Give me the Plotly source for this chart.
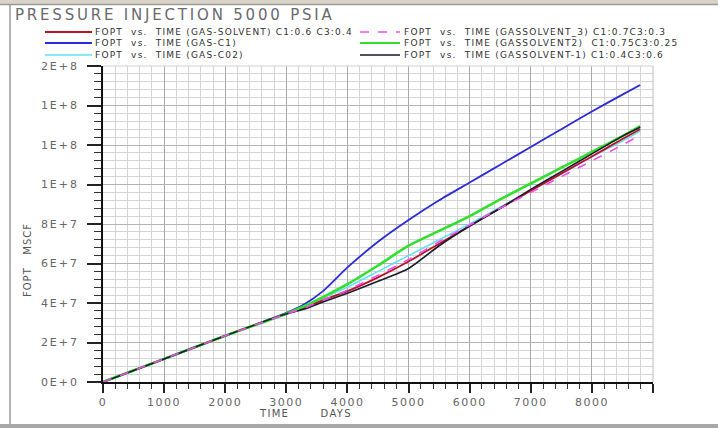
import plotly.graph_objects as go

# Cumulative field oil production (FOPT, MSCF) against time (days)
days = [0, 1000, 2000, 3000, 3300, 3600, 4000, 4500, 5000, 5500, 6000, 6500, 7000, 7500, 8000, 8500, 8790]

fopt_gas_solvent = [0, 1.17e7, 2.34e7, 3.45e7, 3.75e7, 4.15e7, 4.6e7, 5.3e7, 6.1e7, 7.0e7, 7.9e7, 8.8e7, 9.68e7, 1.055e8, 1.142e8, 1.23e8, 1.28e8]
fopt_gas_c1 = [0, 1.17e7, 2.34e7, 3.5e7, 3.95e7, 4.6e7, 5.8e7, 7.1e7, 8.2e7, 9.2e7, 1.01e8, 1.10e8, 1.19e8, 1.28e8, 1.37e8, 1.455e8, 1.504e8]
fopt_gas_co2 = [0, 1.17e7, 2.34e7, 3.45e7, 3.8e7, 4.25e7, 4.8e7, 5.6e7, 6.4e7, 7.2e7, 8.0e7, 8.85e7, 9.7e7, 1.055e8, 1.14e8, 1.22e8, 1.27e8]
fopt_gassolvent_3 = [0, 1.17e7, 2.34e7, 3.45e7, 3.75e7, 4.15e7, 4.65e7, 5.4e7, 6.2e7, 7.1e7, 7.95e7, 8.8e7, 9.6e7, 1.04e8, 1.12e8, 1.2e8, 1.25e8]
fopt_gassolvent2 = [0, 1.17e7, 2.34e7, 3.46e7, 3.85e7, 4.3e7, 4.95e7, 5.9e7, 6.9e7, 7.65e7, 8.4e7, 9.25e7, 1.005e8, 1.085e8, 1.165e8, 1.245e8, 1.296e8]
fopt_gassolvent_1 = [0, 1.17e7, 2.34e7, 3.45e7, 3.7e7, 4.05e7, 4.5e7, 5.1e7, 5.75e7, 6.9e7, 7.9e7, 8.8e7, 9.75e7, 1.065e8, 1.155e8, 1.245e8, 1.29e8]

y_tickvals = [0, 2e7, 4e7, 6e7, 8e7, 1e8, 1.2e8, 1.4e8, 1.6e8]
y_ticktext = ["0E+0", "2E+7", "4E+7", "6E+7", "8E+7", "1E+8", "1E+8", "1E+8", "2E+8"]
x_tickvals = [0, 1000, 2000, 3000, 4000, 5000, 6000, 7000, 8000, 9000]
x_ticktext = ["0", "1000", "2000", "3000", "4000", "5000", "6000", "7000", "8000", ""]

NB = "\u00a0"


def spaced(text, px_gap):
    return f'<span style="letter-spacing:{px_gap}px">{text}</span>'


series = [
    # (values, legend text, colour, width, dash, legend column, legend row)
    (fopt_gas_co2, f"FOPT{NB}{NB}vs.{NB}{NB}TIME{NB}(GAS-C02)", "#5fe3f5", 1.6, "solid", 0, 2),
    (fopt_gas_solvent, f"FOPT{NB}{NB}vs.{NB}{NB}TIME{NB}(GAS-SOLVENT){NB}C1:0.6{NB}C3:0.4", "#c01028", 1.8, "solid", 0, 0),
    (fopt_gas_c1, f"FOPT{NB}{NB}vs.{NB}{NB}TIME{NB}(GAS-C1)", "#2b2bd8", 1.8, "solid", 0, 1),
    (fopt_gassolvent2, f"FOPT{NB}{NB}vs.{NB}{NB}TIME{NB}(GASSOLVENT2){NB}{NB}C1:0.75C3:0.25", "#2fe02f", 2.6, "solid", 1, 1),
    (fopt_gassolvent_1, f"FOPT{NB}{NB}vs.{NB}{NB}TIME{NB}(GASSOLVENT-1){NB}C1:0.4C3:0.6", "#1a1a2a", 1.6, "solid", 1, 2),
    (fopt_gassolvent_3, f"FOPT{NB}{NB}vs.{NB}{NB}TIME{NB}(GASSOLVENT_3){NB}C1:0.7C3:0.3", "#f04cf0", 1.6, "dash", 1, 0),
]

W, H = 718, 428
L, R, T, B = 103, 65, 66, 46
PW, PH = W - L - R, H - T - B


def px(xp):
    return (xp - L) / PW


def py(yp):
    return (H - B - yp) / PH


fig = go.Figure()
for vals, name, color, width, dash, _, _ in series:
    fig.add_trace(go.Scatter(
        x=days, y=vals, mode="lines", name=name, showlegend=False,
        line=dict(color=color, width=width, dash=dash, shape="spline", smoothing=0.6),
    ))

shapes = []
annotations = []

# Two-column key above the plot
col_line = [(45, 92), (360, 400)]
col_text = [93, 402]
row_y = [32, 43, 55]
for vals, name, color, width, dash, col, row in series:
    x0, x1 = col_line[col]
    shapes.append(dict(type="line", xref="paper", yref="paper",
                       x0=px(x0), x1=px(x1), y0=py(row_y[row]), y1=py(row_y[row]),
                       line=dict(color=color, width=min(width, 2.2), dash=dash)))
    annotations.append(dict(xref="paper", yref="paper", x=px(col_text[col]), y=py(row_y[row]),
                            text=spaced(name, 1.2), showarrow=False, xanchor="left", yanchor="middle",
                            font=dict(family="DejaVu Sans", size=9, color="#333333")))

# Title
annotations.append(dict(xref="paper", yref="paper", x=px(13), y=py(15),
                        text=spaced("PRESSURE INJECTION 5000 PSIA", 2.8), showarrow=False,
                        xanchor="left", yanchor="middle",
                        font=dict(family="DejaVu Sans", size=15, color="#6a6a6a")))
# Axis titles
annotations.append(dict(xref="paper", yref="paper", x=px(27), y=py(260),
                        text=spaced(f"FOPT{NB}{NB}{NB}MSCF", 1.0), showarrow=False, textangle=-90,
                        xanchor="center", yanchor="middle",
                        font=dict(family="DejaVu Sans", size=10, color="#555555")))
annotations.append(dict(xref="paper", yref="paper", x=px(305), y=py(413),
                        text=spaced(f"TIME{NB}{NB}{NB}{NB}{NB}{NB}{NB}DAYS", 1.3), showarrow=False,
                        xanchor="center", yanchor="middle",
                        font=dict(family="DejaVu Sans", size=10, color="#555555")))

# Window frame
shapes.append(dict(type="rect", xref="paper", yref="paper", x0=px(0), x1=px(W), y0=py(0), y1=py(4),
                   fillcolor="#d8d4c6", line=dict(width=0), layer="below"))
shapes.append(dict(type="line", xref="paper", yref="paper", x0=px(0), x1=px(W), y0=py(4.5), y1=py(4.5),
                   line=dict(color="#9a9a9a", width=1.5)))
shapes.append(dict(type="line", xref="paper", yref="paper", x0=px(10), x1=px(10), y0=py(5), y1=py(425),
                   line=dict(color="#9a9a9a", width=1.5)))
shapes.append(dict(type="rect", xref="paper", yref="paper", x0=px(0), x1=px(W), y0=py(424), y1=py(H),
                   fillcolor="#a8a8a8", line=dict(width=0)))
# Plot boundary (light)
shapes.append(dict(type="line", xref="paper", yref="paper", x0=1, x1=1, y0=0, y1=1,
                   line=dict(color="#bdbdbd", width=1)))
shapes.append(dict(type="line", xref="paper", yref="paper", x0=0, x1=1, y0=1, y1=1,
                   line=dict(color="#cfcfcf", width=1)))

tick_font = dict(family="DejaVu Sans", size=11, color="#666666")

fig.update_layout(
    width=W, height=H,
    margin=dict(l=L, r=R, t=T, b=B, pad=0),
    paper_bgcolor="white", plot_bgcolor="white",
    shapes=shapes, annotations=annotations,
    xaxis=dict(range=[0, 9000], tickvals=x_tickvals,
               ticktext=[spaced(t, 1.5) for t in x_ticktext],
               showgrid=True, gridcolor="#a9a9a9", gridwidth=1,
               ticks="outside", ticklen=9, tickwidth=1.5, tickcolor="#222",
               showline=True, linecolor="#111", linewidth=1.5,
               zeroline=False, tickfont=tick_font,
               minor=dict(dtick=200, tick0=0, showgrid=True, gridcolor="#d4d4d4", gridwidth=1,
                          ticks="outside", ticklen=5, tickwidth=1, tickcolor="#333")),
    yaxis=dict(range=[0, 1.6e8], tickvals=y_tickvals,
               ticktext=[spaced(t, 2.0) for t in y_ticktext],
               showgrid=True, gridcolor="#b4b4b4", gridwidth=1,
               ticks="outside", ticklen=14, tickwidth=1.5, tickcolor="#222",
               showline=True, linecolor="#111", linewidth=1.5,
               zeroline=False, tickfont=tick_font, ticklabelstandoff=6,
               minor=dict(dtick=4e6, tick0=0, showgrid=True, gridcolor="#d4d4d4", gridwidth=1,
                          ticks="outside", ticklen=7, tickwidth=1, tickcolor="#333")),
)

fig.write_html("out.html")
